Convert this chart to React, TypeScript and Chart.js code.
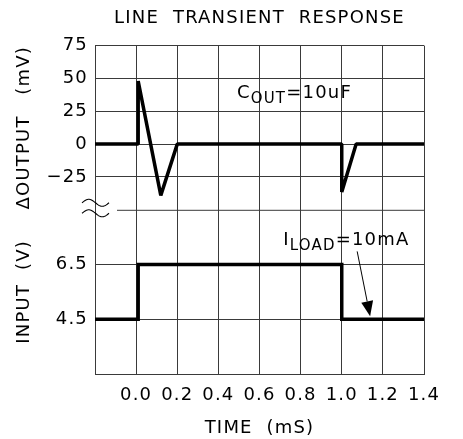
import React, { useEffect, useRef } from 'react';
import { Chart, registerables } from 'chart.js';

Chart.register(...registerables);

// ---- data ----
const timeOut = [-0.2, 0.01, 0.01, 0.12, 0.2, 1.0, 1.0, 1.07, 1.4];
const deltaOut = [0, 0, 48, -39, 0, 0, -36.5, 0, 0];
const timeIn = [-0.2, 0.01, 0.01, 1.0, 1.0, 1.4];
const inputV = [4.5, 4.5, 6.5, 6.5, 4.5, 4.5];

const timeRange = [-0.2, 1.4];
const timeStep = 0.2;
const outRange = [-50, 75];
const outStep = 25;
const inRange = [2.5, 8.5];
const inStep = 2;

const FONT = "'DejaVu Sans', sans-serif";
const GRID = '#3a3a3a';
const INK = '#000';
const SPACING = '1.2px';

const spacingPlugin = {
  id: 'letterSpacing',
  beforeLayout(chart: any) {
    (chart.ctx as any).letterSpacing = SPACING;
  },
  beforeDraw(chart: any) {
    (chart.ctx as any).letterSpacing = SPACING;
  },
};

const breakPlugin = {
  id: 'breakAndNotes',
  afterDraw(chart: any) {
    const { ctx, chartArea, scales } = chart;
    const yU = scales.y;
    const yL = scales.y2;
    const xS = scales.x;
    const yb = yU.getPixelForValue(outRange[0]);
    ctx.save();
    ctx.letterSpacing = SPACING;
    // axis break line
    ctx.strokeStyle = GRID;
    ctx.lineWidth = 1;
    ctx.beginPath();
    ctx.moveTo(chartArea.left + 22, yb + 0.5);
    ctx.lineTo(chartArea.right, yb + 0.5);
    ctx.stroke();
    // break symbol (two tildes)
    ctx.strokeStyle = INK;
    ctx.lineWidth = 1.1;
    for (const dy of [-7, 3.5]) {
      const x0 = chartArea.left - 13;
      const w = 27;
      const y0 = yb + dy;
      ctx.beginPath();
      for (let i = 0; i <= 30; i++) {
        const t = i / 30;
        const px = x0 + w * t;
        const py = y0 - 3.5 * Math.sin(2 * Math.PI * t);
        if (i === 0) ctx.moveTo(px, py);
        else ctx.lineTo(px, py);
      }
      ctx.stroke();
    }
    // annotations
    ctx.fillStyle = INK;
    ctx.textBaseline = 'alphabetic';
    ctx.textAlign = 'left';
    const drawSub = (x: number, y: number, main: string, sub: string, rest: string) => {
      ctx.font = `18px ${FONT}`;
      ctx.fillText(main, x, y);
      let cx = x + ctx.measureText(main).width;
      ctx.font = `15px ${FONT}`;
      ctx.fillText(sub, cx, y + 5);
      cx += ctx.measureText(sub).width;
      ctx.font = `18px ${FONT}`;
      ctx.fillText(rest, cx, y);
    };
    drawSub(xS.getPixelForValue(0.49), yU.getPixelForValue(35), 'C', 'OUT', '=10uF');
    drawSub(xS.getPixelForValue(0.715), yL.getPixelForValue(7.2), 'I', 'LOAD', '=10mA');
    // arrow
    const ax0 = xS.getPixelForValue(1.075);
    const ay0 = yL.getPixelForValue(6.98);
    const ax1 = xS.getPixelForValue(1.138);
    const ay1 = yL.getPixelForValue(4.61);
    const ang = Math.atan2(ay1 - ay0, ax1 - ax0);
    const hl = 15;
    const hw = 6;
    const bx = ax1 - hl * Math.cos(ang);
    const by = ay1 - hl * Math.sin(ang);
    ctx.strokeStyle = INK;
    ctx.lineWidth = 1;
    ctx.beginPath();
    ctx.moveTo(ax0, ay0);
    ctx.lineTo(bx, by);
    ctx.stroke();
    ctx.beginPath();
    ctx.moveTo(ax1, ay1);
    ctx.lineTo(bx + hw * Math.sin(ang), by - hw * Math.cos(ang));
    ctx.lineTo(bx - hw * Math.sin(ang), by + hw * Math.cos(ang));
    ctx.closePath();
    ctx.fill();
    ctx.restore();
  },
};

const fmtTime = (v: number) => {
  if (Math.abs(v - timeRange[0]) < 1e-6) return '';
  const r = Math.abs(v) < 1e-9 ? 0 : v;
  return r.toFixed(1);
};

export default function App() {
  const ref = useRef<HTMLCanvasElement>(null);
  useEffect(() => {
    if (!ref.current) return;
    Chart.defaults.font.family = FONT;
    Chart.defaults.color = INK;
    const chart = new Chart(ref.current, {
      type: 'line',
      data: {
        datasets: [
          {
            label: 'ΔOUTPUT',
            data: timeOut.map((t, i) => ({ x: t, y: deltaOut[i] })),
            yAxisID: 'y',
            borderColor: INK,
            borderWidth: 3.5,
            pointRadius: 0,
            tension: 0,
            borderJoinStyle: 'bevel',
            fill: false,
          },
          {
            label: 'INPUT',
            data: timeIn.map((t, i) => ({ x: t, y: inputV[i] })),
            yAxisID: 'y2',
            borderColor: INK,
            borderWidth: 3.5,
            pointRadius: 0,
            tension: 0,
            borderJoinStyle: 'miter',
            fill: false,
          },
        ],
      },
      options: {
        animation: false,
        responsive: false,
        devicePixelRatio: 1,
        layout: { padding: { left: 0, right: 39, top: 0, bottom: 0 } },
        plugins: {
          legend: { display: false },
          tooltip: { enabled: false },
          title: {
            display: true,
            fullSize: false,
            text: 'LINE  TRANSIENT  RESPONSE',
            color: INK,
            font: { family: FONT, size: 18, weight: 'normal' },
            padding: { top: 8, bottom: 16 },
          },
        },
        scales: {
          x: {
            type: 'linear',
            min: timeRange[0],
            max: timeRange[1],
            ticks: {
              stepSize: timeStep,
              autoSkip: false,
              maxRotation: 0,
              minRotation: 0,
              padding: 11,
              color: INK,
              font: { family: FONT, size: 18 },
              callback: (v: any) => fmtTime(Number(v)),
            },
            grid: { color: GRID, lineWidth: 1, drawTicks: false },
            border: { color: GRID },
            title: {
              display: true,
              text: 'TIME  (mS)',
              color: INK,
              font: { family: FONT, size: 18 },
              padding: { top: 0, bottom: 0 },
            },
            afterFit: (s: any) => {
              s.height = 65;
            },
          },
          y: {
            type: 'linear',
            position: 'left',
            stack: 'v',
            stackWeight: 1,
            weight: 1,
            min: outRange[0],
            max: outRange[1],
            ticks: {
              stepSize: outStep,
              autoSkip: false,
              padding: 7,
              color: INK,
              font: { family: FONT, size: 18 },
              callback: (v: any) => (v === outRange[0] ? '' : v < 0 ? '−' + Math.abs(v) : String(v)),
            },
            grid: {
              drawTicks: false,
              lineWidth: 1,
              color: (c: any) => (c.tick && c.tick.value === outRange[0] ? 'rgba(0,0,0,0)' : GRID),
            },
            border: { color: GRID },
            title: {
              display: true,
              text: 'ΔOUTPUT   (mV)',
              color: INK,
              font: { family: FONT, size: 18 },
              padding: { top: 14, bottom: 0 },
            },
            afterFit: (s: any) => {
              s.width = 95;
            },
          },
          y2: {
            type: 'linear',
            position: 'left',
            stack: 'v',
            stackWeight: 1,
            weight: 0,
            min: inRange[0],
            max: inRange[1],
            ticks: {
              stepSize: inStep,
              autoSkip: false,
              padding: 7,
              color: INK,
              font: { family: FONT, size: 18 },
              callback: (v: any) => (v === inRange[0] || v === inRange[1] ? '' : Number(v).toFixed(1)),
            },
            grid: {
              drawTicks: false,
              lineWidth: 1,
              color: (c: any) => (c.tick && c.tick.value === inRange[1] ? 'rgba(0,0,0,0)' : GRID),
            },
            border: { color: GRID },
            title: {
              display: true,
              text: 'INPUT  (V)',
              color: INK,
              font: { family: FONT, size: 18 },
              padding: { top: 14, bottom: 0 },
            },
            afterFit: (s: any) => {
              s.width = 95;
            },
          },
        },
      } as any,
      plugins: [spacingPlugin, breakPlugin],
    });
    return () => chart.destroy();
  }, []);
  return (
    <div style={{ position: 'absolute', left: 0, top: 0, width: 463, height: 439, background: '#fff' }}>
      <canvas ref={ref} width={463} height={439} style={{ display: 'block' }} />
    </div>
  );
}
